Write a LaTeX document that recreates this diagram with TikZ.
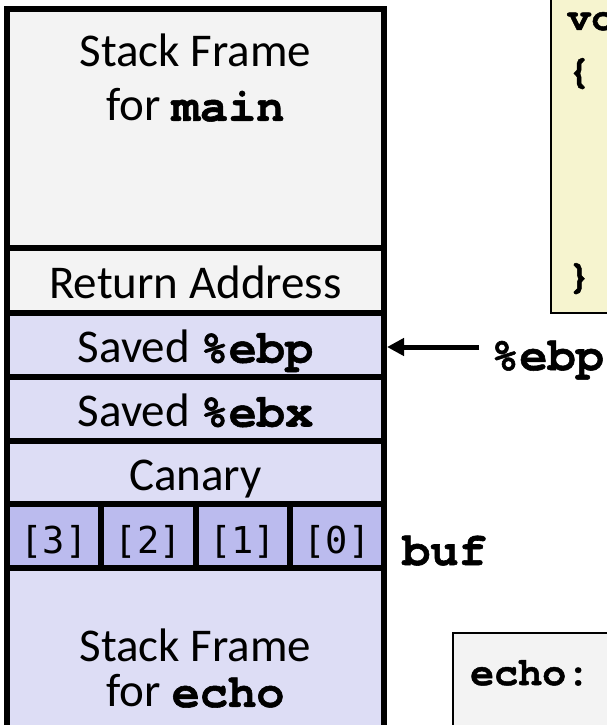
\documentclass[tikz,border=0pt]{standalone}
\usepackage{fontspec}
\setmainfont{Carlito}
\newfontfamily\codefont{texgyrecursor}[Extension=.otf,
  UprightFont=*-regular,BoldFont=*-bold,BoldFeatures={FakeBold=1.2}]
\newfontfamily\idxfont{DejaVu Sans Mono}
\usepackage{tikz}
\usetikzlibrary{arrows.meta,positioning,calc}
\usepackage{xcolor}
\definecolor{framegray}{HTML}{F3F3F3}
\definecolor{framelav}{HTML}{DDDDF5}
\definecolor{buflav}{HTML}{BBBBEE}
\definecolor{codeyel}{HTML}{F6F4CF}
\newcommand{\cbf}[1]{{\codefont\bfseries #1}}

\begin{document}
\begin{tikzpicture}[x=1pt,y=-1pt,
  cell/.style={draw,line width=6pt,minimum width=377pt,inner sep=0pt,
    font=\fontsize{47}{54}\selectfont,text height=35pt,text depth=0pt},
  bufcell/.style={cell,fill=buflav,minimum width=94.25pt,minimum height=64pt,
    font=\idxfont\fontsize{37}{40}\selectfont,text height=35pt},
  frametxt/.style={align=center,inner sep=0pt},
  codebox/.style={draw,line width=2pt},
  codetxt/.style={anchor=base west,inner sep=0pt,
    font=\codefont\bfseries\fontsize{40}{48}\selectfont},
  regtxt/.style={anchor=base west,inner sep=0pt,
    font=\codefont\bfseries\fontsize{47}{54}\selectfont},
  regarrow/.style={-{Triangle[length=17pt,width=17pt]},line width=5pt}]
  \useasboundingbox (0,0) rectangle (607,725);
  \clip (0,0) rectangle (607,725);

  % source of echo, cut by the right edge
  \draw[codebox,fill=codeyel] (551,-20) rectangle (720,313);
  \node[codetxt] (codehead) at (567,30) {void echo()};
  \node[codetxt] (codeopen) at (567,83) {\{};
  \node[codetxt] (codeclose) at (567,288) {\}};

  % the stack
  \node[cell,fill=framegray,minimum height=239pt] (mainfr) at (195.5,128.5) {};
  \node[frametxt,font=\fontsize{47}{54}\selectfont] (maintxt) at (195.5,78)
    {Stack Frame\\for \cbf{main}};
  \node[cell,fill=framegray,minimum height=65pt] (retaddr) at (195.5,280.5) {Return Address};
  \node[cell,fill=framelav,minimum height=64pt] (savedebp) at (195.5,345) {Saved \cbf{\%ebp}};
  \node[cell,fill=framelav,minimum height=64pt] (savedebx) at (195.5,409) {Saved \cbf{\%ebx}};
  \node[cell,fill=framelav,minimum height=63pt] (canary) at (195.5,472.5) {Canary};
  \foreach \i/\k in {0/3,1/2,2/1,3/0}
    \node[bufcell] (buf\k) at ({54.125+\i*94.25},536) {[\k]};
  \node[cell,fill=framelav,minimum height=222pt] (echofr) at (195.5,679) {};
  \node[frametxt,font=\fontsize{47}{45}\selectfont] (echotxt) at (195.5,668.5)
    {Stack Frame\\for \cbf{echo}};

  \node[regtxt] (bufname) at (402,565) {buf};
  \node[regtxt] (ebpreg) at (491,370) {\%ebp};
  \coordinate (ebptail) at (479,347);
  \draw[regarrow] (ebptail) -- (savedebp.east |- ebptail);

  % assembly of echo, cut by the lower edge
  \draw[codebox,fill=framegray] (453,633) rectangle (720,800);
  \node[codetxt] (asmhead) at (470,685) {echo:};
\end{tikzpicture}
\end{document}
